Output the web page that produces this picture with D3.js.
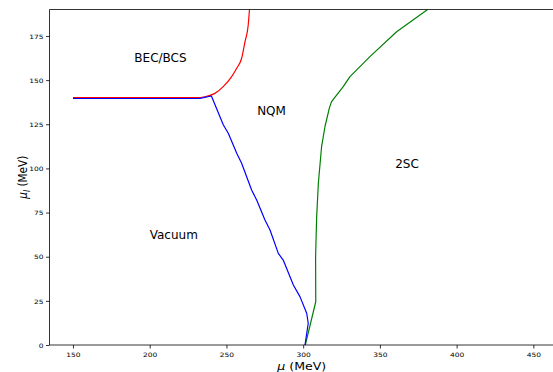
<!DOCTYPE html>
<html><head><meta charset="utf-8">
<script src="https://cdn.jsdelivr.net/npm/d3@7"></script>
<style>body{margin:0;background:#fff}svg{display:block}text{font-family:"DejaVu Sans",sans-serif}</style>
</head><body><svg id="c" width="553" height="372"></svg>
<script>
const xDomain = [134.7, 462.8];
const yDomain = [0, 190];
const xTicks = [150, 200, 250, 300, 350, 400, 450];
const yTicks = [0, 25, 50, 75, 100, 125, 150, 175];

const redMu  = [150, 230.1, 236, 242.5, 247.9, 253.4, 256.7, 259.9, 262.1, 264.2, 265.0];
const redMuI = [140.1, 140.1, 140.6, 142.5, 146.3, 152, 156.7, 162.4, 171.8, 181.2, 190];

const blueMu  = [150, 232.8, 240.2, 248, 251.2, 256.7, 259.9, 266.4, 269.7, 275.1, 278.4, 283.8, 287, 293.6, 297.9, 302.3, 303.3, 301.2];
const blueMuI = [139.6, 139.7, 141, 124.6, 119.9, 108.6, 102.9, 87.8, 82.1, 70.8, 65.1, 51.9, 48.1, 34, 27.4, 18, 12.3, 0];

const greenMu  = [301.4, 308.2, 308.1, 308.8, 309.9, 312, 314.2, 317, 318.5, 326.1, 330.5, 343.5, 360.9, 381.1];
const greenMuI = [0, 24.5, 50, 72.7, 91.6, 112.3, 123.6, 134, 137.8, 146.3, 152, 163.3, 177.4, 190];

const regionLabels = ["BEC/BCS", "NQM", "2SC", "Vacuum"];
const regionMu  = [190, 270, 360, 200];
const regionMuI = [160, 130, 100, 60];

const svg = d3.select("#c");
const L = 49.5, R = 553, T = 9.5, B = 345;
const x = d3.scaleLinear().domain(xDomain).range([L, R]);
const y = d3.scaleLinear().domain(yDomain).range([B, T]);

svg.append("clipPath").attr("id","clip").append("rect").attr("x",L).attr("y",T).attr("width",R-L).attr("height",B-T);

const g = svg.append("g").attr("clip-path","url(#clip)");
function draw(xs, ys, col, curve){
  const line = d3.line().x(d=>x(d[0])).y(d=>y(d[1])).curve(curve);
  g.append("path").datum(xs.map((v,i)=>[v, ys[i]])).attr("d", line)
   .attr("fill","none").attr("stroke",col).attr("stroke-width",1.2).attr("stroke-linejoin","round");
}
draw(redMu, redMuI, "#ff0000", d3.curveMonotoneX);
draw(greenMu, greenMuI, "#008000", d3.curveLinear);
draw(blueMu, blueMuI, "#0000ff", d3.curveLinear);

// axes
const xa = svg.append("g").attr("transform",`translate(0,${B})`)
  .call(d3.axisBottom(x).tickValues(xTicks).tickSize(3.5).tickPadding(3.5).tickSizeOuter(0));
const ya = svg.append("g").attr("transform",`translate(${L},0)`)
  .call(d3.axisLeft(y).tickValues(yTicks).tickSize(3.5).tickPadding(3.5).tickSizeOuter(0));
[xa, ya].forEach(a=>{
  a.select(".domain").remove();
  a.selectAll("line").attr("stroke","#000").attr("stroke-width",0.8);
});
// tick labels: slightly wide glyphs (reference is horizontally stretched)
xa.selectAll(".tick text").each(function(){
  d3.select(this).attr("font-size",6).attr("fill","#000").attr("x",0).attr("y",0).attr("dy",null)
   .attr("transform","translate(0,12) scale(1.25,1)");
});
ya.selectAll(".tick text").each(function(){
  d3.select(this).attr("font-size",6).attr("fill","#000").attr("x",0).attr("y",0).attr("dy",null)
   .attr("transform","translate(-6,2.2) scale(1.25,1)");
});
// spines
svg.append("line").attr("x1",L).attr("x2",L).attr("y1",T).attr("y2",B).attr("stroke","#000").attr("stroke-width",0.8);
svg.append("line").attr("x1",L).attr("x2",R).attr("y1",B).attr("y2",B).attr("stroke","#000").attr("stroke-width",0.8);
svg.append("line").attr("x1",L).attr("x2",R).attr("y1",T).attr("y2",T).attr("stroke","#000").attr("stroke-width",0.8);

// region labels
svg.selectAll("text.reg").data(regionLabels).enter().append("text").attr("class","reg")
  .attr("x",(d,i)=>x(regionMu[i])).attr("y",(d,i)=>y(regionMuI[i]))
  .attr("font-size",12).attr("fill","#000").text(d=>d);

// axis labels
const xl = svg.append("text").attr("transform",`translate(${(L+R)/2 + 0.5},369.5) scale(1.2,1)`).attr("text-anchor","middle").attr("font-size",10.5);
xl.append("tspan").attr("font-style","italic").text("μ");
xl.append("tspan").text(" (MeV)");

const yl = svg.append("text").attr("transform",`translate(26.5,${(T+B)/2}) rotate(-90) scale(1,1.2)`).attr("text-anchor","middle").attr("font-size",10.5);
yl.append("tspan").attr("font-style","italic").text("μ");
yl.append("tspan").attr("font-style","italic").attr("font-size",7.5).attr("dy",2.5).text("I");
yl.append("tspan").attr("dy",-2.5).text(" (MeV)");
</script></body></html>
